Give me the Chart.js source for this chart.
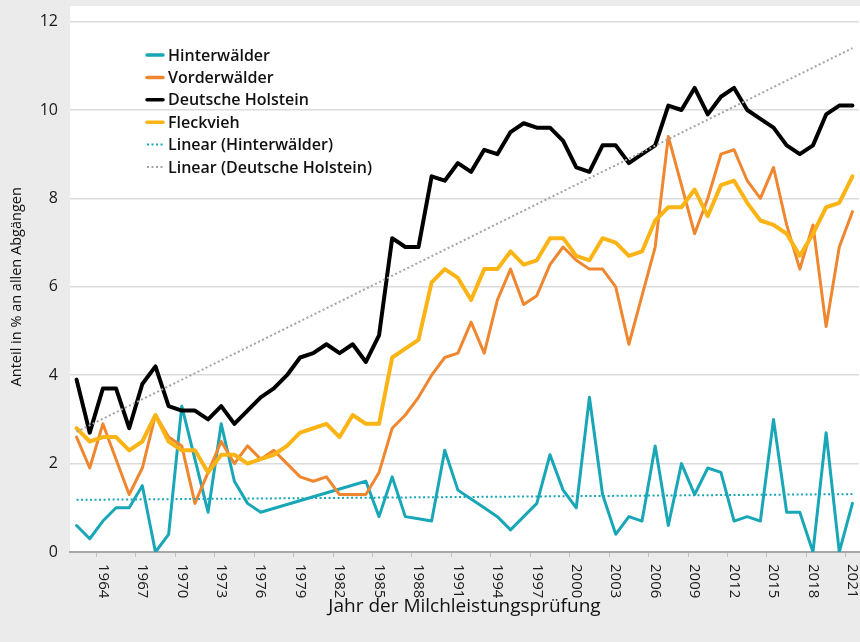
<!DOCTYPE html>
<html>
<head>
<meta charset="utf-8">
<script src="https://cdn.jsdelivr.net/npm/chart.js@4.4.1/dist/chart.umd.min.js"></script>
<style>
  html, body { margin: 0; padding: 0; background: #ebebeb; }
  canvas { display: block; }
</style>
</head>
<body>
<canvas id="abgaenge" width="860" height="642"></canvas>
<script>
// Jahre der Milchleistungsprüfung (1962 - 2021)
const years = [];
for (let y = 1962; y <= 2021; y++) years.push(String(y));

// beschriftete Jahre auf der x-Achse
const tickYears = ['1964', '1967', '1970', '1973', '1976', '1979', '1982', '1985', '1988', '1991',
  '1994', '1997', '2000', '2003', '2006', '2009', '2012', '2015', '2018', '2021'];

// Anteil in % an allen Abgängen
const hinterwaelder = [0.6, 0.3, 0.7, 1.0, 1.0, 1.5, 0.0, 0.4, 3.3, 2.1,
  0.9, 2.9, 1.6, 1.1, 0.9, null, null, null, null, null,
  null, null, 1.6, 0.8, 1.7, 0.8, 0.75, 0.7, 2.3, 1.4,
  1.2, 1.0, 0.8, 0.5, 0.8, 1.1, 2.2, 1.4, 1.0, 3.5,
  1.3, 0.4, 0.8, 0.7, 2.4, 0.6, 2.0, 1.3, 1.9, 1.8,
  0.7, 0.8, 0.7, 3.0, 0.9, 0.9, 0.0, 2.7, 0.0, 1.1];

const vorderwaelder = [2.6, 1.9, 2.9, 2.1, 1.3, 1.9, 3.1, 2.6, 2.4, 1.1,
  1.8, 2.5, 2.0, 2.4, 2.1, 2.3, 2.0, 1.7, 1.6, 1.7,
  1.3, 1.3, 1.3, 1.8, 2.8, 3.1, 3.5, 4.0, 4.4, 4.5,
  5.2, 4.5, 5.7, 6.4, 5.6, 5.8, 6.5, 6.9, 6.6, 6.4,
  6.4, 6.0, 4.7, 5.8, 6.9, 9.4, 8.3, 7.2, 8.0, 9.0,
  9.1, 8.4, 8.0, 8.7, 7.4, 6.4, 7.4, 5.1, 6.9, 7.7];

const holstein = [3.9, 2.7, 3.7, 3.7, 2.8, 3.8, 4.2, 3.3, 3.2, 3.2,
  3.0, 3.3, 2.9, 3.2, 3.5, 3.7, 4.0, 4.4, 4.5, 4.7,
  4.5, 4.7, 4.3, 4.9, 7.1, 6.9, 6.9, 8.5, 8.4, 8.8,
  8.6, 9.1, 9.0, 9.5, 9.7, 9.6, 9.6, 9.3, 8.7, 8.6,
  9.2, 9.2, 8.8, 9.0, 9.2, 10.1, 10.0, 10.5, 9.9, 10.3,
  10.5, 10.0, 9.8, 9.6, 9.2, 9.0, 9.2, 9.9, 10.1, 10.1];

const fleckvieh = [2.8, 2.5, 2.6, 2.6, 2.3, 2.5, 3.1, 2.5, 2.3, 2.3,
  1.8, 2.2, 2.2, 2.0, 2.1, 2.2, 2.4, 2.7, 2.8, 2.9,
  2.6, 3.1, 2.9, 2.9, 4.4, 4.6, 4.8, 6.1, 6.4, 6.2,
  5.7, 6.4, 6.4, 6.8, 6.5, 6.6, 7.1, 7.1, 6.7, 6.6,
  7.1, 7.0, 6.7, 6.8, 7.5, 7.8, 7.8, 8.2, 7.6, 8.3,
  8.4, 7.9, 7.5, 7.4, 7.2, 6.7, 7.2, 7.8, 7.9, 8.5];

// lineare Trends (Anfangs- und Endwert)
const trendYears = ['1962', '2021'];
const trendHinterwaelder = [1.18, 1.31];
const trendHolstein = [2.72, 11.40];

const teal = '#19a7b8';
const orange = '#ef8730';
const yellow = '#fbb416';

const trendPoints = (vals) => vals.map((v, i) => ({ x: trendYears[i], y: v }));

// grauer Rahmen, weisse Zeichenfläche
const backgroundPlugin = {
  id: 'background',
  beforeDraw(chart) {
    const { ctx, chartArea } = chart;
    ctx.save();
    ctx.fillStyle = '#ebebeb';
    ctx.fillRect(0, 0, chart.width, chart.height);
    ctx.fillStyle = '#ffffff';
    ctx.fillRect(chartArea.left, 6, chart.width - chartArea.left, chartArea.bottom - 6);
    ctx.restore();
  }
};

// senkrechte Jahreszahlen (von oben nach unten gelesen)
const yearLabelPlugin = {
  id: 'yearLabels',
  afterDraw(chart) {
    const { ctx } = chart;
    const x = chart.scales.x;
    ctx.save();
    ctx.font = '15px "Open Sans"';
    ctx.fillStyle = '#1a1a1a';
    ctx.textAlign = 'left';
    ctx.textBaseline = 'middle';
    tickYears.forEach(year => {
      const px = x.getPixelForValue(years.indexOf(year));
      ctx.save();
      ctx.translate(px, x.top + 12);
      ctx.rotate(Math.PI / 2);
      ctx.fillText(year, 0, 0);
      ctx.restore();
    });
    ctx.restore();
  }
};

// Legende innerhalb der Zeichenfläche
const legendPlugin = {
  id: 'innerLegend',
  afterDraw(chart) {
    const { ctx } = chart;
    ctx.save();
    ctx.font = '600 16px "Open Sans"';
    ctx.textBaseline = 'middle';
    ctx.textAlign = 'left';
    chart.data.datasets.forEach((ds, i) => {
      const y = 55 + i * 22.4;
      ctx.strokeStyle = ds.borderColor;
      ctx.lineWidth = ds.borderDash ? 2 : 3.5;
      ctx.setLineDash(ds.borderDash || []);
      ctx.lineCap = ds.borderDash ? 'butt' : 'round';
      ctx.beginPath();
      ctx.moveTo(147, y);
      ctx.lineTo(163, y);
      ctx.stroke();
      ctx.fillStyle = '#111';
      ctx.fillText(ds.label, 168, y + 1);
    });
    ctx.restore();
  }
};

const ctx = document.getElementById('abgaenge').getContext('2d');

new Chart(ctx, {
  type: 'line',
  data: {
    labels: years,
    datasets: [
      { label: 'Hinterwälder', data: hinterwaelder, borderColor: teal, borderWidth: 3, spanGaps: true, order: 4 },
      { label: 'Vorderwälder', data: vorderwaelder, borderColor: orange, borderWidth: 3, order: 3 },
      { label: 'Deutsche Holstein', data: holstein, borderColor: '#000000', borderWidth: 4, order: 2 },
      { label: 'Fleckvieh', data: fleckvieh, borderColor: yellow, borderWidth: 4, order: 1 },
      { label: 'Linear (Hinterwälder)', data: trendPoints(trendHinterwaelder), borderColor: teal,
        borderWidth: 2, borderDash: [2, 2.5], borderCapStyle: 'butt', spanGaps: true, order: 0 },
      { label: 'Linear (Deutsche Holstein)', data: trendPoints(trendHolstein), borderColor: '#a3a3a3',
        borderWidth: 2, borderDash: [2, 2.5], borderCapStyle: 'butt', spanGaps: true, order: 0 }
    ]
  },
  options: {
    responsive: false,
    animation: false,
    devicePixelRatio: 1,
    layout: { padding: { top: 16, right: 1, bottom: 0, left: 0 } },
    elements: {
      point: { radius: 0, hoverRadius: 0 },
      line: { tension: 0, borderJoinStyle: 'round', borderCapStyle: 'round', fill: false }
    },
    plugins: {
      legend: { display: false },
      tooltip: { enabled: false }
    },
    scales: {
      x: {
        type: 'category',
        offset: true,
        ticks: { display: false },
        grid: {
          offset: true,
          drawOnChartArea: false,
          drawTicks: true,
          tickLength: 5,
          color: (c) => (c.index % 3 === 2 ? '#c4c4c4' : 'rgba(0,0,0,0)')
        },
        border: { display: true, color: '#a8a8a8', width: 2 },
        title: {
          display: true,
          text: 'Jahr der Milchleistungsprüfung',
          color: '#111',
          font: { family: 'Open Sans', size: 19 },
          padding: { top: 0, bottom: 24 }
        },
        afterFit(scale) { scale.height = 90; }
      },
      y: {
        min: 0,
        max: 12,
        ticks: {
          stepSize: 2,
          padding: 12,
          color: '#1a1a1a',
          font: { family: 'Open Sans', size: 16 }
        },
        grid: {
          drawTicks: false,
          lineWidth: 1.5,
          color: (c) => (c.tick && c.tick.value === 0 ? '#a8a8a8' : '#dcdcdc')
        },
        border: { display: false },
        title: {
          display: true,
          text: 'Anteil in % an allen Abgängen',
          color: '#111',
          font: { family: 'Open Sans', size: 14.5 },
          padding: { top: 8, bottom: 0 }
        },
        afterFit(scale) { scale.width = 70; }
      }
    }
  },
  plugins: [backgroundPlugin, yearLabelPlugin, legendPlugin]
});
</script>
</body>
</html>
